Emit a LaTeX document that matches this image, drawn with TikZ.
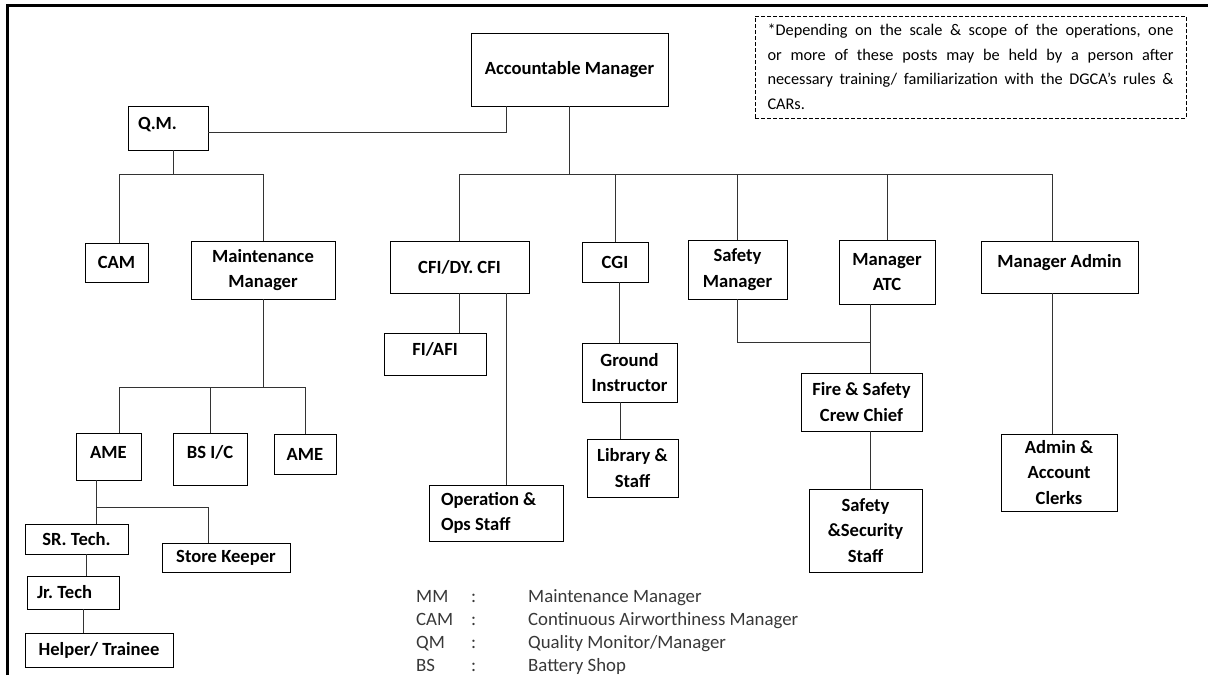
\documentclass[tikz,border=0pt]{standalone}
\usepackage{fontspec}
\setmainfont{Carlito}
\frenchspacing

\begin{document}
\begin{tikzpicture}[x=1pt,y=-1pt,
  box/.style={draw,line width=0.8pt,font=\bfseries\fontsize{18.6}{25.5}\selectfont,align=center,inner sep=2pt},
  lbox/.style={box,align=left,execute at begin node={\spaceskip=0pt\xspaceskip=0pt}},
  wh/.style 2 args={minimum width=#1pt,minimum height=#2pt},
  link/.style={line width=0.8pt,color=black!80}]

\definecolor{legendgray}{rgb}{0.22,0.22,0.22}

\useasboundingbox (0,0) rectangle (1208,675);

% frame
\draw[line width=3pt] (7,675)--(7,5)--(1208,5);

% top
\node[box,wh={197}{73}] (am) at (569.5,69.5) {Accountable Manager};
\node[lbox,wh={80}{44},text width=60pt,text depth=9pt] (qm) at (168,128) {Q.M.};

% maintenance side
\node[box,wh={63}{39}] (cam) at (116.5,262.5) {CAM};
\node[box,wh={144}{58}] (mm) at (263,270) {Maintenance\\Manager};
\node[box,wh={65}{47},text depth=9pt] (ame1) at (108.5,456.5) {AME};
\node[box,wh={74}{52},text depth=14pt] (bsic) at (210,459) {BS I/C};
\node[box,wh={62}{40}] (ame2) at (305,454) {AME};
\node[box,wh={103}{30}] (srt) at (76.5,539) {SR. Tech.};
\node[box,wh={128}{29}] (sk) at (226,557.5) {Store Keeper};
\node[lbox,wh={92}{33},text width=72pt] (jrt) at (73,592.5) {Jr. Tech};
\node[box,wh={148}{34}] (hlp) at (99,650) {Helper/ Trainee};

% operations side
\node[box,wh={139}{52}] (cfi) at (459.5,267) {CFI/DY. CFI};
\node[box,wh={66}{40}] (cgi) at (615,262) {CGI};
\node[box,wh={99}{59}] (sfm) at (737.5,269.5) {Safety\\Manager};
\node[box,wh={96}{64}] (atc) at (887,272) {Manager\\ATC};
\node[box,wh={157}{52},text depth=12pt] (adm) at (1059.5,267) {Manager Admin};
\node[box,wh={102}{42},text depth=10pt] (fi) at (435,354) {FI/AFI};
\node[lbox,wh={134}{56},text width=110pt] (ops) at (496,513) {Operation \&\\Ops Staff};
\node[box,wh={95}{59}] (gi) at (629.5,372.5) {Ground\\Instructor};
\node[box,wh={91}{58}] (lib) at (632.5,468) {Library \&\\Staff};
\node[box,wh={121}{58}] (fsc) at (861.5,402) {Fire \& Safety\\Crew Chief};
\node[box,wh={113}{83}] (sss) at (865.5,530.5) {Safety\\\&Security\\Staff};
\node[box,wh={116}{77}] (aac) at (1059,472.5) {Admin \&\\Account\\Clerks};

\coordinate (qmbus) at (119,174);
\coordinate (mmbus) at (119,387);
\coordinate (amebus) at (96,507);
\coordinate (skbus) at (208,507);
\coordinate (mainbus) at (459,174);
\coordinate (mainbusR) at (1052,174);
\coordinate (atcbus) at (870,342);

\draw[link] ([yshift=-4pt]qm.east) -| ([xshift=-63.5pt]am.south);
\draw[link] ([xshift=5pt]qm.south) -- ([xshift=5pt]qm.south |- qmbus);
\draw[link] (cam.north -| qmbus) -- (qmbus) -- (mm.north |- qmbus) -- (mm.north);

\draw[link] (mm.south) -- (mm.south |- mmbus);
\draw[link] (ame1.north -| mmbus) -- (mmbus) -- (ame2.north |- mmbus) -- (ame2.north);
\draw[link] (bsic.north) -- (bsic.north |- mmbus);

\draw[link] (ame1.south -| amebus) -- (amebus) -- (skbus) -- (skbus |- sk.north);
\draw[link] (srt.north -| amebus) -- (amebus);
\draw[link] ([xshift=9.5pt]srt.south) -- ([xshift=9.5pt]srt.south |- jrt.north);
\draw[link] ([xshift=10pt]jrt.south) -- ([xshift=10pt]jrt.south |- hlp.north);

\draw[link] (am.south) -- (am.south |- mainbus);
\draw[link] (mainbus) -- (mainbusR) -- (adm.north -| mainbusR);
\foreach \n in {cfi,cgi,sfm,atc}{
  \draw[link] (\n.north) -- (\n.north |- mainbus);
}
\draw[link] (adm.south -| mainbusR) -- (aac.north -| mainbusR);

\draw[link] (cfi.south) -- (cfi.south |- fi.north);
\draw[link] ([xshift=46.5pt]cfi.south) -- ([xshift=46.5pt]cfi.south |- ops.north);
\draw[link] ([xshift=4pt]cgi.south) -- ([xshift=4pt]cgi.south |- gi.north);
\draw[link] ([xshift=-9.5pt]gi.south) -- ([xshift=-9.5pt]gi.south |- lib.north);
\draw[link] (sfm.south) |- (atcbus);
\draw[link] (atc.south -| atcbus) -- (fsc.north -| atcbus);
\draw[link] (fsc.south -| atcbus) -- (sss.north -| atcbus);

% note
\node[draw,dashed,dash pattern=on 4pt off 2pt,line width=0.7pt,minimum width=431pt,minimum height=102pt,
  text width=406pt,align=justify,font=\fontsize{16.3}{24.5}\selectfont] (note) at (970.5,67)
  {*Depending on the scale \& scope of the operations, one\linebreak
   or more of these posts may be held by a person after\linebreak
   necessary training/ familiarization with the DGCA’s rules \&\linebreak
   CARs.};

% legend
\foreach \ab/\txt [count=\i] in {MM/Maintenance Manager,CAM/Continuous Airworthiness Manager,QM/{Quality Monitor/Manager},BS/Battery Shop}{
  \node[anchor=base west,inner sep=0pt,color=legendgray,font=\fontsize{18.8}{22}\selectfont] (ab\i) at (416,579+23*\i) {\ab};
  \node[anchor=base west,inner sep=0pt,color=legendgray,font=\fontsize{18.8}{22}\selectfont] (col\i) at (471,579+23*\i) {:};
  \node[anchor=base west,inner sep=0pt,color=legendgray,font=\fontsize{18.8}{22}\selectfont] (def\i) at (528,579+23*\i) {\txt};
}

\end{tikzpicture}
\end{document}
